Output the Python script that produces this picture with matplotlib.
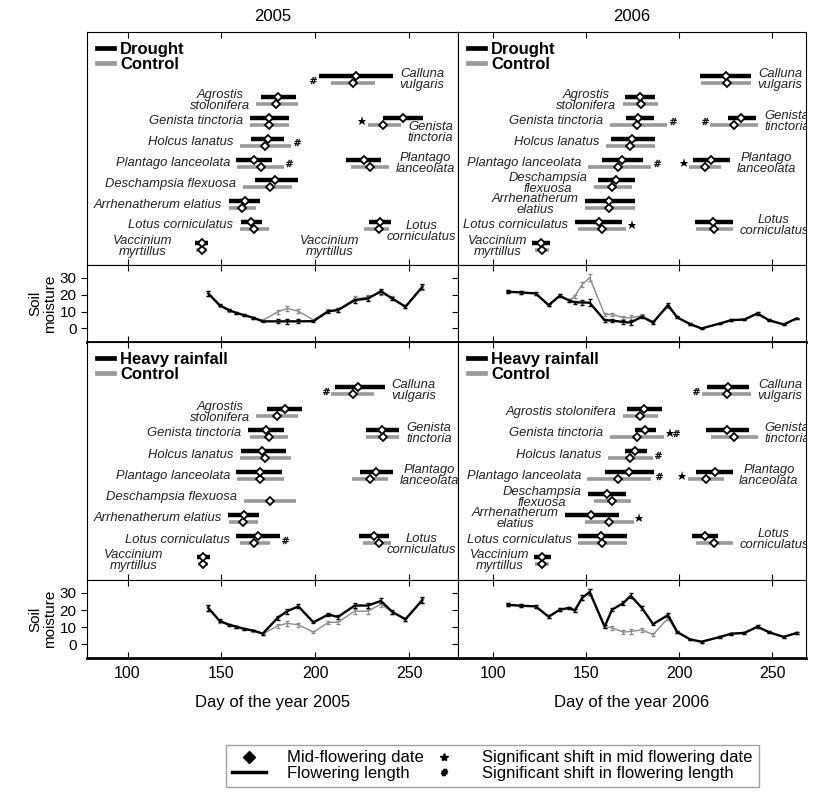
import matplotlib.pyplot as plt
from matplotlib.lines import Line2D

plt.rcParams['font.family'] = ['Liberation Sans', 'DejaVu Sans']

# row of each flowering group (0 = Calluna ... 8 = Vaccinium), same order in every panel
group_rows = [0, 1, 2, 2, 3, 4, 4, 5, 6, 7, 7, 8]
group_late = [True, False, False, True, False, False, True, False, False, False, True, False]

# flowering periods (start, mid, end), day of year
drought05_trt = [(201.9, 221.8, 241.3), (171.3, 180.1, 189.9), (165.0, 175.2, 186.0), (236.3, 246.6, 257.2),
                 (166.0, 174.8, 183.1), (158.0, 167.3, 177.1), (216.5, 225.7, 235.1), (167.7, 178.7, 190.7),
                 (154.0, 162.4, 170.7), (160.6, 166.0, 171.8), (228.5, 234.2, 240.4), (135.8, 139.4, 142.9)]
drought05_ctl = [(208.5, 220.0, 232.0), (168.6, 179.2, 190.7), (165.4, 175.3, 186.0), (228.0, 236.3, 245.7),
                 (159.7, 173.4, 187.2), (158.3, 171.3, 183.1), (219.1, 229.3, 239.2), (161.5, 175.7, 187.8),
                 (154.0, 161.2, 168.6), (159.7, 167.3, 175.3), (226.2, 233.8, 239.5), (136.3, 139.9, 142.3)]
drought05_labels = ['Calluna\nvulgaris', 'Agrostis\nstolonifera', 'Genista tinctoria', 'Genista\ntinctoria',
                    'Holcus lanatus', 'Plantago lanceolata', 'Plantago\nlanceolata', 'Deschampsia flexuosa',
                    'Arrhenatherum elatius', 'Lotus corniculatus', 'Lotus\ncorniculatus', 'Vaccinium\nmyrtillus']
drought05_sig = {0: '#', 3: '*', 4: '#', 5: '#'}

drought06_trt = [(211.4, 225.1, 238.5), (171.1, 178.8, 186.8), (171.6, 177.9, 186.4), (226.0, 233.2, 241.2),
                 (163.6, 174.9, 186.8), (158.6, 169.5, 180.5), (207.3, 217.1, 227.4), (156.5, 166.3, 176.5),
                 (149.7, 162.4, 176.1), (144.0, 156.8, 169.3), (208.6, 218.0, 228.7), (121.2, 125.8, 130.6)]
drought06_ctl = [(211.9, 225.7, 238.5), (169.8, 179.3, 188.9), (162.7, 177.5, 193.6), (216.7, 229.2, 242.0),
                 (160.9, 173.8, 186.8), (151.1, 167.2, 185.0), (205.5, 213.9, 222.5), (154.3, 164.1, 174.7),
                 (149.7, 162.4, 176.1), (145.8, 158.6, 171.7), (209.0, 218.5, 228.7), (122.6, 126.2, 130.1)]
drought06_labels = ['Calluna\nvulgaris', 'Agrostis\nstolonifera', 'Genista tinctoria', 'Genista\ntinctoria',
                    'Holcus lanatus', 'Plantago lanceolata', 'Plantago\nlanceolata', 'Deschampsia\nflexuosa',
                    'Arrhenatherum\nelatius', 'Lotus corniculatus', 'Lotus\ncorniculatus', 'Vaccinium\nmyrtillus']
drought06_sig = {2: '#', 3: '#', 5: '#', 6: '*', 9: '*'}

rain05_trt = [(210.3, 222.7, 236.9), (174.3, 183.7, 193.1), (164.2, 173.6, 183.1), (226.8, 235.6, 244.8),
              (160.6, 171.8, 184.6), (158.0, 170.4, 182.4), (223.6, 232.1, 241.3), None,
              (153.5, 161.9, 170.0), (158.0, 169.5, 181.0), (223.2, 231.5, 239.5), (137.0, 140.2, 143.8)]
rain05_ctl = [(208.5, 220.0, 231.5), (168.6, 179.6, 190.7), (165.0, 175.3, 185.4), (227.0, 236.3, 244.8),
              (159.7, 173.0, 187.2), (158.3, 170.7, 183.1), (219.7, 228.9, 238.6), (161.9, 175.7, 189.5),
              (154.0, 161.5, 169.5), (160.0, 167.2, 175.7), (225.3, 233.8, 240.4), (137.6, 140.2, 142.9)]
rain05_labels = ['Calluna\nvulgaris', 'Agrostis\nstolonifera', 'Genista tinctoria', 'Genista\ntinctoria',
                 'Holcus lanatus', 'Plantago lanceolata', 'Plantago\nlanceolata', 'Deschampsia flexuosa',
                 'Arrhenatherum elatius', 'Lotus corniculatus', 'Lotus\ncorniculatus', 'Vaccinium\nmyrtillus']
rain05_sig = {0: '#', 9: '#'}

rain06_trt = [(215.0, 226.0, 237.6), (172.2, 181.1, 190.7), (176.1, 181.8, 187.7), (214.4, 225.7, 237.6),
              (170.7, 176.5, 182.9), (160.4, 172.9, 186.4), (209.1, 219.3, 228.7), (151.1, 161.5, 171.7),
              (139.0, 152.9, 167.5), (145.8, 158.3, 172.2), (206.7, 213.9, 221.0), (122.3, 126.5, 131.2)]
rain06_ctl = [(212.1, 225.7, 238.5), (169.8, 179.1, 188.9), (162.7, 177.5, 192.1), (217.1, 229.2, 242.0),
              (161.8, 173.8, 185.9), (150.8, 167.2, 185.0), (204.6, 214.4, 223.9), (154.3, 164.0, 174.3),
              (149.4, 162.2, 175.7), (145.8, 158.6, 172.2), (209.1, 218.5, 228.7), (122.6, 126.5, 130.1)]
rain06_labels = ['Calluna\nvulgaris', 'Agrostis stolonifera', 'Genista tinctoria', 'Genista\ntinctoria',
                 'Holcus lanatus', 'Plantago lanceolata', 'Plantago\nlanceolata', 'Deschampsia\nflexuosa',
                 'Arrhenatherum\nelatius', 'Lotus corniculatus', 'Lotus\ncorniculatus', 'Vaccinium\nmyrtillus']
rain06_sig = {0: '#', 2: '*#', 4: '#', 5: '#', 6: '*', 8: '*'}

# soil moisture
days05 = [143, 149, 154, 158, 162, 167, 172, 180, 185, 191, 199, 207, 212, 221, 228, 235, 241, 248, 257]
soil05_drought = [20.7, 13.8, 10.8, 9.2, 7.9, 6.3, 4.2, 4.2, 4.2, 4.2, 4.3, 10.2, 10.8, 16.7, 17.7, 22.0, 17.7, 12.8, 24.6]
soil05_dctl = [20.5, 13.6, 10.6, 9.0, 7.8, 6.2, 4.8, 9.8, 11.8, 10.2, 5.0, 10.5, 11.0, 17.5, 18.5, 21.0, 18.0, 13.0, 24.2]
soil05_rain = [21.2, 13.7, 11.4, 10.3, 9.0, 8.0, 6.2, 15.5, 19.3, 22.1, 12.8, 17.4, 15.9, 22.6, 22.6, 25.3, 18.9, 14.6, 25.8]
soil05_rctl = [21.0, 13.5, 11.2, 10.2, 8.9, 7.8, 6.0, 10.8, 12.2, 11.4, 7.1, 12.8, 12.8, 19.3, 19.3, 23.4, 18.7, 14.4, 25.5]
err05 = [1.5, 0.8, 0.7, 0.6, 0.6, 0.5, 0.5, 1.2, 1.5, 1.2, 0.6, 1.0, 1.0, 1.5, 1.5, 1.5, 1.0, 1.0, 1.5]

days06 = [108, 115, 123, 130, 136, 141, 144, 148, 152, 160, 164, 170, 174, 180, 186, 194, 199, 206, 212,
          222, 228, 235, 242, 248, 256, 263]
soil06_drought = [21.7, 21.3, 20.7, 13.8, 19.3, 16.5, 15.4, 15.4, 15.2, 4.9, 4.7, 3.8, 3.5, 6.9, 3.5, 13.8, 6.5,
                  2.5, 0.0, 3.0, 4.9, 5.3, 8.9, 4.9, 2.4, 5.9]
soil06_dctl = [21.7, 21.3, 20.7, 13.8, 19.3, 16.5, 19.0, 26.0, 30.0, 8.3, 8.3, 6.5, 6.3, 7.5, 4.0, 12.8, 6.5,
               2.5, 0.0, 3.0, 4.9, 5.3, 8.9, 4.9, 2.4, 5.9]
soil06_rain = [23.0, 22.5, 22.1, 16.1, 20.2, 21.2, 19.7, 27.1, 30.5, 10.3, 20.2, 24.0, 28.3, 21.2, 11.8, 17.0, 7.1,
               2.8, 1.5, 4.3, 6.2, 6.6, 10.3, 7.1, 4.3, 6.6]
soil06_rctl = [23.0, 22.5, 22.1, 16.1, 20.2, 21.2, 19.7, 27.1, 30.5, 10.3, 9.6, 7.1, 7.5, 8.4, 5.6, 15.2, 7.1,
               2.8, 1.5, 4.3, 6.2, 6.6, 10.3, 7.1, 4.3, 6.6]
err06 = [0.8, 0.8, 0.8, 0.8, 0.8, 0.8, 0.8, 1.5, 2.0, 0.8, 1.0, 1.0, 1.5, 1.0, 0.8, 1.0, 0.6,
         0.5, 0.5, 0.5, 0.5, 0.5, 0.8, 0.5, 0.5, 0.5]

xticks = [100, 150, 200, 250]
BAR_OFF = 0.17
GRAY = '#9a9a9a'
LABEL_FS = 9.4


def draw_sig(ax, x, y, sym, direction):
    # place each significance sign as a marker, walking away from the bar
    chars = sym if direction > 0 else sym[::-1]
    for i, ch in enumerate(chars):
        xx = x + direction * i * 3.2
        if ch == '*':
            ax.plot(xx, y, marker='*', ms=6.5, color='black', mew=0)
        else:
            ax.plot(xx, y, marker='$\\#$', ms=5, color='black', mew=0.3)


def species_label(ax, x, y, text, ha):
    ax.text(x, y, text, ha=ha, va='center', multialignment='center', linespacing=0.88,
            fontstyle='italic', fontsize=LABEL_FS, color='#222222', clip_on=True)


def draw_flowering(ax, trt, ctl, labels, sig, treat_name, xlim, vac_gap, nudge=None):
    # nudge: group index -> (dx in days, dy in rows) for labels that sit off their usual spot
    nudge = nudge or {}
    for g in range(len(group_rows)):
        y = group_rows[g] + 1
        t = trt[g]
        c = ctl[g]
        if c is not None:
            ax.plot([c[0], c[2]], [y + BAR_OFF] * 2, color=GRAY, lw=2.6, solid_capstyle='butt')
        if t is not None:
            ax.plot([t[0], t[2]], [y - BAR_OFF] * 2, color='black', lw=3.2, solid_capstyle='butt')
        if c is not None:
            ax.plot(c[1], y + BAR_OFF, marker='D', ms=4, mfc='white', mec='black', mew=1.3)
        if t is not None:
            ax.plot(t[1], y - BAR_OFF, marker='D', ms=4, mfc='white', mec='black', mew=1.3)
        both = [p for p in (t, c) if p is not None]
        lo = min(p[0] for p in both)
        hi = max(p[2] for p in both)
        gap = vac_gap if group_rows[g] == 8 else 3.5
        dx, dy = nudge.get(g, (0, 0))
        if group_late[g]:
            species_label(ax, hi + gap + dx, y + dy, labels[g], 'left')
        else:
            species_label(ax, lo - gap + dx, y + dy, labels[g], 'right')
        if g in sig:
            if group_late[g]:
                draw_sig(ax, lo - 3, y, sig[g], -1)
            else:
                draw_sig(ax, hi + 3, y, sig[g], 1)
    handles = [Line2D([], [], color='black', lw=3.4), Line2D([], [], color=GRAY, lw=3.4)]
    ax.legend(handles, [treat_name, 'Control'], loc='upper left', frameon=False,
              prop={'weight': 'bold', 'size': 12}, handlelength=1.0, handletextpad=0.4,
              labelspacing=0.0, borderaxespad=0.3, borderpad=0.3)
    ax.set_xlim(xlim)
    ax.set_ylim(9.9, -1.3)
    ax.set_yticks([])
    ax.set_xticks(xticks)
    ax.tick_params(axis='x', direction='in', top=True, bottom=True, labelbottom=False, length=4)


def draw_soil(ax, days, trt, ctl, err, xlim, left_col, bottom_row):
    ax.errorbar(days, ctl, yerr=err, color='#8a8a8a', lw=1.0, elinewidth=0.8, capsize=1.5)
    ax.errorbar(days, trt, yerr=err, color='black', lw=1.7, elinewidth=0.9, capsize=1.5)
    ax.set_xlim(xlim)
    ax.set_ylim(-8, 37.5)
    ax.set_yticks([0, 10, 20, 30])
    ax.set_xticks(xticks)
    ax.tick_params(axis='x', direction='in', top=True, bottom=True, length=4, labelbottom=bottom_row,
                   labelsize=11.5, pad=6)
    ax.tick_params(axis='y', direction='out', length=4, labelleft=left_col, labelsize=11)
    ax.spines['bottom'].set_linewidth(2.0)
    if left_col:
        ax.set_ylabel('Soil\nmoisture', fontsize=11, labelpad=2, linespacing=1.0)


fig = plt.figure(figsize=(8.14, 7.92), dpi=100)

col_left = [87 / 814, 458 / 814]
col_width = [371 / 814, 348 / 814]
xlims = [(78.4, 276), (81.4, 268)]
# rows: top flowering, top soil, bottom flowering, bottom soil (pixel top, pixel bottom)
row_px = [(32, 265), (265, 342), (342, 580), (580, 658)]


def make_ax(col, row):
    top, bot = row_px[row]
    return fig.add_axes([col_left[col], 1 - bot / 792, col_width[col], (bot - top) / 792])


a = make_ax(0, 0)
draw_flowering(a, drought05_trt, drought05_ctl, drought05_labels, drought05_sig, 'Drought', xlims[0], 12,
               {3: (-11.5, 0.55), 10: (-6, 0.3)})
species_label(a, 207.6, 9, 'Vaccinium\nmyrtillus', 'center')
a.set_title('2005', fontsize=12, pad=8)

a = make_ax(1, 0)
draw_flowering(a, drought06_trt, drought06_ctl, drought06_labels, drought06_sig, 'Drought', xlims[1], 2.5)
a.set_title('2006', fontsize=12, pad=8)

a = make_ax(0, 1)
draw_soil(a, days05, soil05_drought, soil05_dctl, err05, xlims[0], True, False)
a = make_ax(1, 1)
draw_soil(a, days06, soil06_drought, soil06_dctl, err06, xlims[1], False, False)

a = make_ax(0, 2)
draw_flowering(a, rain05_trt, rain05_ctl, rain05_labels, rain05_sig, 'Heavy rainfall', xlims[0], 18,
               {10: (-6, 0.25)})
a = make_ax(1, 2)
draw_flowering(a, rain06_trt, rain06_ctl, rain06_labels, rain06_sig, 'Heavy rainfall', xlims[1], 2.5)

a = make_ax(0, 3)
draw_soil(a, days05, soil05_rain, soil05_rctl, err05, xlims[0], True, True)
a.set_xlabel('Day of the year 2005', fontsize=12, labelpad=10)
a = make_ax(1, 3)
draw_soil(a, days06, soil06_rain, soil06_rctl, err06, xlims[1], False, True)
a.set_xlabel('Day of the year 2006', fontsize=12, labelpad=10)

# key for the symbols
key = [Line2D([], [], ls='none', marker='D', ms=6, color='black'),
       Line2D([], [], color='black', lw=2.5),
       Line2D([], [], ls='none', marker='*', ms=6, color='black'),
       Line2D([], [], ls='none', marker='$\\#$', ms=4.5, color='black')]
key_labels = ['Mid-flowering date', 'Flowering length',
              'Significant shift in mid flowering date', 'Significant shift in flowering length']
leg = fig.legend(key, key_labels, loc='center', bbox_to_anchor=(0.605, 0.033), ncol=2,
                 fontsize=12, frameon=True, fancybox=False, edgecolor='#888888', handlelength=2.0,
                 handletextpad=1.3, labelspacing=0.05, columnspacing=0.2, borderpad=0.35)
leg.get_frame().set_linewidth(1.0)

fig.savefig('out.png', dpi=100)
